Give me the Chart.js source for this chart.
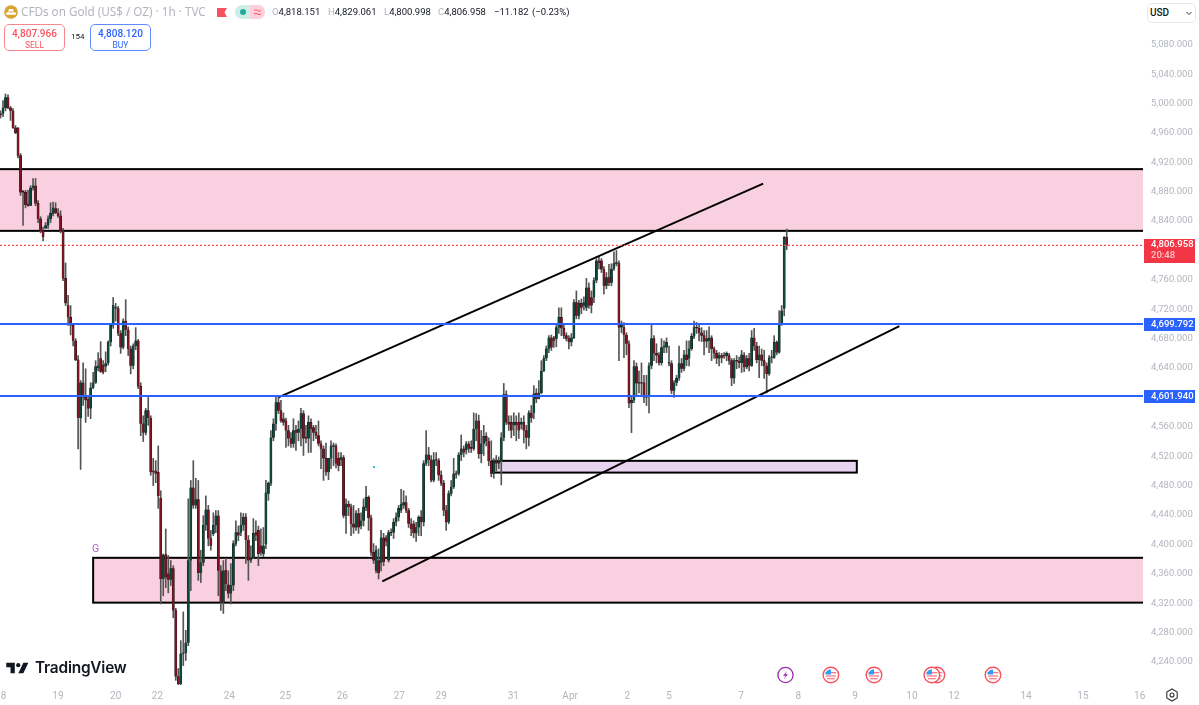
<!DOCTYPE html>
<html>
<head>
<meta charset="utf-8">
<title>CFDs on Gold</title>
<script src="https://cdn.jsdelivr.net/npm/chart.js@4/dist/chart.umd.min.js"></script>
<style>
  html, body { margin: 0; padding: 0; background: #fff; overflow: hidden; }
  #wrap { position: relative; width: 1199px; height: 705px; font-family: Roboto, sans-serif; }
  canvas { position: absolute; left: 0; top: 0; }
  .t { position: absolute; white-space: nowrap; line-height: 1; }
  .ohlc { top: 7px; font-size: 9.5px; color: #b2b5be; }
  .ohlc span { color: #131722; }
  .box { position: absolute; box-sizing: border-box; border-radius: 5px; background: #fff; text-align: center; }
  .box b { display: block; font-weight: 500; font-size: 10px; margin-top: 3px; line-height: 12px; }
  .box span { display: block; font-size: 8.5px; line-height: 10px; }
  svg { position: absolute; overflow: visible; }
</style>
</head>
<body>
<div id="wrap">
  <canvas id="chart" width="1199" height="705"></canvas>

  <svg style="left:4px;top:5px" width="14" height="14" viewBox="0 0 14 14">
    <circle cx="7" cy="7" r="6.8" fill="#d9a334"/>
    <path d="M5 4h4l1 2.5H4zM2.6 7.3h4l.8 2.5H2zM7.4 7.3h4l.8 2.5H6.8z" fill="#fff"/>
  </svg>
  <div class="t" style="left:21px;top:6px;font-size:11.7px;color:#b2b5be;font-family:'Noto Sans',sans-serif">CFDs on Gold (US$ / OZ) · 1h · TVC</div>
  <svg style="left:217px;top:7px" width="10" height="10"><path d="M0 1h10L7.5 5.5 10 10H0z" fill="#f7525f"/></svg>
  <svg style="left:235px;top:5px" width="30" height="14">
    <rect width="30" height="14" rx="7" fill="#cdeee6"/>
    <path d="M15 0h8a7 7 0 0 1 0 14h-8z" fill="#fbd0dc"/>
    <circle cx="8" cy="7" r="3" fill="#22ab94"/>
    <path d="M19 5.5q2-1.5 3.5 0t3.5 0M19 9q2-1.5 3.5 0t3.5 0" stroke="#f7525f" fill="none" stroke-width="1"/>
  </svg>
  <div class="t ohlc" style="left:272px">O<span>4,818.151</span></div>
  <div class="t ohlc" style="left:328px">H<span>4,829.061</span></div>
  <div class="t ohlc" style="left:384px">L<span>4,800.998</span></div>
  <div class="t ohlc" style="left:438px">C<span>4,806.958</span></div>
  <div class="t ohlc" style="left:494px"><span>−11.182</span></div>
  <div class="t ohlc" style="left:532px"><span>(−0.23%)</span></div>

  <div class="box" style="left:4px;top:24px;width:61px;height:27px;border:1px solid #f7868f;color:#f7525f"><b>4,807.966</b><span>SELL</span></div>
  <div class="t" style="left:71px;top:33px;font-size:8px;color:#131722">154</div>
  <div class="box" style="left:90px;top:24px;width:61px;height:27px;border:1px solid #5f8dff;color:#2962ff"><b>4,808.120</b><span>BUY</span></div>

  <div class="box" style="left:1147px;top:3px;width:49px;height:20px;border:1px solid #e6e7ea"></div>
  <div class="t" style="left:1150px;top:8px;font-size:10px;font-weight:500;color:#131722">USD</div>
  <svg style="left:1186px;top:11px" width="6" height="5"><path d="M.5 1l2.5 2.5L5.5 1" stroke="#333" fill="none"/></svg>

  <div class="t" style="left:92px;top:544px;font-size:10.5px;color:#b45cd0">G</div>
  <div style="position:absolute;left:373px;top:466px;width:2px;height:2px;background:#26c6da"></div>

  <svg style="left:6px;top:662px" width="23" height="12" viewBox="0 0 30 16">
    <path d="M0 1h12v14H6V7H0zM24 1h7l-7 14h-7z" fill="#131722" transform="scale(.95 1)"/>
    <circle cx="16" cy="4.2" r="2.8" fill="#131722"/>
  </svg>
  <div class="t" style="left:35px;top:660px;font-size:15.4px;font-weight:600;color:#131722;letter-spacing:-.2px;font-family:Inter,sans-serif">TradingView</div>

  <svg id="icons" style="left:0;top:0" width="1199" height="705">
    <g transform="translate(785.5 675)"><circle r="7.6" fill="#fff" stroke="#9c27b0" stroke-width="1.3"/><path d="M1.5-4L-2.5 .8H0L-1.5 4 2.5-.8H0z" fill="#9c27b0"/></g>
  </svg>

  <svg style="left:1165px;top:688px" width="14" height="14" viewBox="0 0 14 14">
    <path d="M7 1l5.2 3v6L7 13l-5.2-3V4z" fill="none" stroke="#333" stroke-width="1.1"/><circle cx="7" cy="7" r="2" fill="none" stroke="#333" stroke-width="1.1"/>
  </svg>
</div>

<script>
'use strict'

// candles, one hour per bar
const opens = [
  4986,4986,4994,5008,4994,4990,4967,4967,4929,4880,4879,4863,4861,4885,4888,4864,4843,4827,4830,4834,4843,4850,4857,4851,4847,4827,
  4762,4725,4709,4698,4677,4651,4572,4620,4600,4597,4585,4613,4620,4640,4653,4644,4642,4647,4675,4698,4722,4721,4687,4668,4704,
  4692,4666,4643,4670,4677,4615,4564,4552,4582,4572,4500,4500,4498,4463,4353,4386,4360,4352,4367,4310,4220,4210,4251,4252,4266,
  4378,4477,4453,4461,4361,4375,4426,4447,4408,4414,4426,4439,4364,4321,4365,4345,4333,4344,4401,4416,4416,4426,4437,4406,4378,
  4382,4416,4419,4398,4387,4400,4469,4483,4545,4564,4593,4582,4571,4568,4555,4544,4537,4555,4552,4557,4578,4546,4544,4566,4559,
  4552,4548,4537,4530,4517,4498,4517,4534,4534,4517,4515,4518,4439,4455,4451,4428,4423,4442,4425,4432,4450,4464,4436,4389,4364,
  4378,4375,4409,4409,4378,4416,4416,4430,4437,4446,4453,4457,4446,4428,4428,4415,4423,4437,4430,4510,4522,4515,4487,4515,4514,
  4494,4483,4446,4430,4469,4478,4496,4496,4522,4530,4528,4537,4532,4530,4557,4568,4523,4537,4547,4540,4513,4496,4513,4510,4513,
  4545,4604,4566,4566,4562,4566,4566,4563,4566,4555,4545,4579,4579,4606,4598,4606,4636,4653,4666,4681,4681,4680,4695,4709,4694,
  4684,4680,4675,4681,4729,4711,4728,4725,4722,4749,4736,4736,4759,4786,4786,4774,4752,4763,4756,4775,4782,4783,4695,4695,4685,
  4673,4592,4596,4642,4619,4620,4620,4600,4601,4643,4680,4660,4658,4647,4668,4668,4647,4646,4609,4620,4626,4646,4639,4658,4653,
  4666,4683,4695,4694,4688,4684,4676,4677,4681,4666,4660,4653,4657,4657,4656,4657,4650,4626,4650,4649,4647,4657,4641,4653,4643,4681,
  4670,4651,4658,4650,4643,4632,4654,4654,4675,4661,4700,4721,4818.151
];
const highs = [
  4990,5004,5013,5012,4996,4993,4970,4967,4932,4882,4882,4882,4888,4898,4898,4868,4846,4832,4838,4847,4865,4866,4865,4857,4854,4830,
  4783,4739,4725,4700,4680,4657,4623,4647,4639,4602,4620,4634,4650,4661,4676,4650,4662,4677,4700,4736,4728,4724,4691,4707,4733,
  4696,4670,4673,4695,4679,4620,4575,4585,4600,4575,4517,4514,4534,4473,4387,4421,4385,4378,4371,4313,4231,4269,4308,4283,4462,
  4487,4514,4490,4487,4392,4439,4466,4453,4419,4443,4446,4446,4371,4378,4381,4364,4374,4405,4432,4425,4443,4442,4442,4412,4398,
  4435,4432,4425,4421,4423,4487,4485,4555,4571,4600,4600,4596,4579,4572,4562,4552,4571,4562,4568,4585,4582,4562,4575,4571,4562,
  4562,4568,4541,4534,4538,4517,4541,4538,4537,4525,4525,4521,4462,4459,4455,4453,4446,4449,4443,4462,4479,4466,4440,4401,4398,
  4394,4419,4415,4412,4419,4421,4435,4443,4453,4475,4473,4466,4449,4435,4432,4430,4439,4446,4514,4555,4532,4521,4525,4525,4517,
  4500,4487,4453,4473,4487,4517,4500,4525,4549,4534,4540,4540,4541,4579,4578,4576,4555,4562,4552,4545,4541,4517,4521,4519,4552,
  4619,4609,4575,4575,4579,4575,4579,4572,4575,4562,4582,4589,4616,4612,4623,4650,4657,4670,4684,4685,4683,4698,4722,4722,4698,
  4688,4684,4687,4733,4745,4732,4734,4737,4762,4756,4745,4763,4789,4792,4789,4778,4770,4781,4782,4798,4800,4786,4704,4702,4688,
  4677,4602,4650,4647,4636,4647,4630,4630,4647,4699,4684,4673,4661,4680,4677,4681,4670,4650,4623,4630,4670,4653,4664,4677,4677,
  4687,4704,4702,4698,4695,4691,4691,4696,4684,4669,4664,4661,4660,4661,4662,4660,4653,4653,4657,4655,4664,4661,4657,4660,4691,4694,
  4675,4670,4666,4664,4647,4657,4664,4684,4677,4718,4725,4819,4829.061
];
const lows = [
  4980,4982,4990,4993,4977,4966,4959,4926,4875,4834,4858,4860,4861,4882,4861,4838,4824,4813,4830,4830,4838,4847,4850,4845,4824,4759,
  4725,4698,4685,4670,4650,4530,4502,4589,4566,4574,4571,4612,4619,4636,4634,4632,4635,4644,4670,4694,4704,4684,4660,4666,4684,
  4657,4632,4639,4665,4612,4548,4540,4549,4562,4494,4480,4484,4449,4319,4330,4341,4334,4344,4300,4215,4209,4209,4235,4242,4262,
  4337,4449,4449,4351,4348,4371,4419,4398,4392,4412,4416,4330,4310,4306,4337,4327,4319,4337,4398,4405,4412,4419,4374,4351,4375,
  4381,4405,4371,4385,4383,4394,4460,4480,4541,4555,4578,4566,4562,4532,4534,4532,4532,4528,4541,4534,4521,4538,4525,4525,4541,
  4544,4534,4503,4487,4494,4488,4503,4507,4504,4500,4507,4436,4415,4439,4412,4415,4419,4415,4421,4425,4446,4419,4385,4374,4361,
  4353,4364,4371,4398,4376,4412,4408,4425,4432,4443,4449,4443,4423,4412,4409,4404,4412,4412,4425,4507,4507,4485,4485,4507,4487,
  4480,4439,4419,4428,4466,4476,4490,4494,4514,4519,4523,4525,4525,4528,4541,4517,4511,4521,4534,4507,4492,4490,4500,4503,4481,
  4541,4563,4555,4545,4548,4541,4544,4557,4538,4530,4534,4566,4571,4593,4598,4605,4635,4650,4661,4664,4668,4669,4687,4684,4680,
  4677,4666,4670,4680,4707,4707,4714,4719,4718,4721,4715,4729,4756,4775,4770,4741,4748,4752,4752,4773,4779,4650,4688,4654,4658,
  4586,4552,4593,4601,4606,4602,4593,4589,4579,4639,4650,4647,4644,4644,4661,4661,4643,4605,4600,4616,4623,4634,4636,4643,4643,
  4664,4680,4687,4677,4676,4658,4668,4661,4650,4653,4646,4643,4647,4653,4650,4645,4616,4619,4639,4640,4634,4635,4639,4636,4642,4664,
  4647,4627,4643,4626,4606,4630,4647,4653,4658,4660,4698,4711,4800.998
];
const closes = [
  4984,4994,5008,4994,4990,4967,4960,4929,4879,4879,4862,4861,4885,4888,4864,4843,4827,4818,4834,4843,4851,4858,4851,4847,4827,4762,
  4728,4709,4698,4677,4651,4572,4620,4600,4596,4585,4613,4620,4642,4643,4635,4634,4646,4675,4698,4725,4721,4687,4668,4704,4692,
  4666,4643,4670,4677,4615,4564,4552,4582,4572,4498,4498,4496,4466,4353,4385,4355,4352,4367,4310,4220,4210,4251,4252,4266,4378,
  4477,4453,4461,4361,4375,4426,4447,4408,4398,4426,4439,4364,4321,4364,4346,4333,4344,4401,4416,4412,4426,4437,4406,4378,4381,
  4415,4412,4387,4389,4398,4470,4483,4545,4564,4593,4582,4568,4566,4555,4544,4537,4555,4552,4557,4578,4544,4544,4566,4557,4552,
  4548,4537,4530,4517,4498,4517,4534,4533,4510,4507,4518,4439,4455,4451,4428,4423,4442,4423,4432,4451,4464,4436,4389,4378,4392,
  4361,4409,4376,4404,4416,4415,4430,4437,4449,4455,4457,4446,4428,4421,4415,4423,4437,4430,4510,4522,4515,4487,4515,4514,4494,
  4483,4446,4430,4469,4478,4496,4495,4522,4530,4525,4537,4530,4530,4557,4568,4523,4537,4547,4540,4513,4496,4513,4510,4513,4545,
  4604,4566,4563,4555,4566,4562,4555,4566,4555,4545,4579,4572,4605,4598,4606,4636,4653,4666,4681,4668,4677,4695,4709,4694,4684,
  4680,4675,4681,4729,4711,4728,4722,4729,4749,4725,4725,4759,4786,4783,4774,4752,4763,4756,4775,4782,4783,4695,4698,4685,4673,
  4592,4596,4642,4619,4620,4619,4600,4601,4643,4680,4660,4657,4647,4668,4670,4675,4646,4609,4620,4626,4646,4639,4658,4651,4666,
  4683,4695,4694,4688,4684,4676,4680,4681,4666,4660,4653,4657,4654,4656,4660,4650,4626,4650,4649,4647,4658,4641,4653,4643,4681,4670,
  4651,4658,4650,4643,4632,4654,4655,4675,4661,4700,4718,4818,4806.958
];

// axes
const priceTicks = [4240,4280,4320,4360,4400,4440,4480,4520,4560,4600,4640,4680,4720,4760,4800,4840,4880,4920,4960,5000,5040,5080];
const timeLabels = ['8','19','20','22','24','25','26','27','29','31','Apr','2','5','7','8','9','10','12','14','15','16'];
const timeIndex = [1.2,23,46,62.7,91.4,113.8,136.5,159.3,176,204.8,227.5,250.3,267,295.8,318.6,341.3,364,380.8,409.6,432.3,455];

// drawn objects on the chart, in bars and price
const upperChannelX = [111, 304.6];
const upperChannelY = [4600, 4891];
const lowerChannelX = [152.5, 359];
const lowerChannelY = [4349.5, 4697];
const zoneStart = [-5, 37, 196.4];
const zoneEnd = [470, 470, 342];
const zoneTop = [4910.7, 4381.7, 4513.7];
const zoneBottom = [4826.7, 4320.7, 4497.7];
const zoneFill = ['#f9d0df', '#f9d0df', '#e8d4ee'];
const levelPrices = [4699.792, 4601.94];
const lastPrice = 4806.958;
const calendarBars = [331.5, 348.7, 373.8, 371.8, 396.2];

const xMin = -0.2;
const xMax = 456.3;
const yMin = 4208.6;
const yMax = 5140.9;

const bars = opens.map((_, i) => i);

function money(v) {
  return v.toLocaleString('en-US', { minimumFractionDigits: 3 });
}

function hLine(price, color, width, dash) {
  return {
    type: 'line', order: 0, borderColor: color, borderWidth: width, borderDash: dash || [],
    pointRadius: 0, data: [{ x: xMin, y: price }, { x: xMax, y: price }]
  };
}

function trendLine(xs, ys) {
  return {
    type: 'line', order: 0, borderColor: '#000', borderWidth: 2, pointRadius: 0,
    data: xs.map((x, i) => ({ x: x, y: ys[i] }))
  };
}

const zonesPlugin = {
  id: 'zones',
  beforeDatasetsDraw(chart) {
    const ctx = chart.ctx, sx = chart.scales.x, sy = chart.scales.y, a = chart.chartArea;
    ctx.save();
    ctx.beginPath();
    ctx.rect(a.left, a.top, a.right - a.left, a.bottom - a.top);
    ctx.clip();
    zoneTop.forEach((top, i) => {
      const x0 = sx.getPixelForValue(zoneStart[i]), x1 = sx.getPixelForValue(zoneEnd[i]);
      const y0 = sy.getPixelForValue(top), y1 = sy.getPixelForValue(zoneBottom[i]);
      ctx.fillStyle = zoneFill[i];
      ctx.fillRect(x0, y0, x1 - x0, y1 - y0);
      ctx.strokeStyle = '#000';
      ctx.lineWidth = 2;
      ctx.strokeRect(x0, y0, x1 - x0, y1 - y0);
    });
    ctx.restore();
  }
};

// price tags on the right axis
const tagsPlugin = {
  id: 'tags',
  afterDraw(chart) {
    const ctx = chart.ctx, sy = chart.scales.y;
    ctx.save();
    ctx.textBaseline = 'middle';
    ctx.textAlign = 'left';
    ctx.font = '500 9.5px Roboto';
    levelPrices.forEach(p => {
      const y = Math.round(sy.getPixelForValue(p));
      ctx.fillStyle = '#2962ff';
      ctx.fillRect(1144, y - 6, 51, 13);
      ctx.fillStyle = '#fff';
      ctx.fillText(money(p), 1151, y + 0.5);
    });
    const y = Math.round(sy.getPixelForValue(lastPrice));
    ctx.fillStyle = '#f23645';
    ctx.fillRect(1144, y - 6, 51, 24);
    ctx.fillStyle = '#fff';
    ctx.fillText(money(lastPrice), 1151, y);
    ctx.fillStyle = '#fcc5ca';
    ctx.fillText('20:48', 1151, y + 11);
    ctx.restore();
  }
};

new Chart(document.getElementById('chart'), {
  type: 'bar',
  plugins: [zonesPlugin, tagsPlugin],
  data: {
    datasets: [
      hLine(levelPrices[0], '#2962ff', 2),
      hLine(levelPrices[1], '#2962ff', 2),
      hLine(lastPrice, '#ff4d5e', 1.2, [2, 2]),
      trendLine(upperChannelX, upperChannelY),
      trendLine(lowerChannelX, lowerChannelY),
      {
        // bodies
        order: 1, grouped: false, barThickness: 2.2, minBarLength: 1,
        backgroundColor: bars.map(i => closes[i] >= opens[i] ? '#0a4a3d' : '#7d1422'),
        borderColor: '#111', borderWidth: 0.4,
        data: bars.map(i => ({ x: i, y: [opens[i], closes[i]] }))
      },
      {
        // wicks
        order: 2, grouped: false, barThickness: 1,
        backgroundColor: '#555',
        data: bars.map(i => ({ x: i, y: [lows[i], highs[i]] }))
      }
    ]
  },
  options: {
    responsive: false,
    animation: false,
    devicePixelRatio: 1,
    layout: { padding: 0 },
    plugins: { legend: { display: false }, tooltip: { enabled: false } },
    scales: {
      x: {
        type: 'linear', min: xMin, max: xMax, offset: false,
        grid: { display: false, offset: false, drawTicks: false }, border: { display: false },
        afterBuildTicks: s => { s.ticks = timeIndex.map(v => ({ value: v })); },
        afterFit: s => { s.height = 20; s.paddingLeft = 0; s.paddingRight = 0; },
        ticks: {
          autoSkip: false, maxRotation: 0, padding: 5, color: '#b2b5be',
          font: { family: 'Roboto', size: 10 },
          callback: (v, i) => timeLabels[i]
        }
      },
      y: {
        type: 'linear', position: 'right', min: yMin, max: yMax, beginAtZero: false,
        grid: { display: false, drawTicks: false }, border: { display: false },
        afterBuildTicks: s => { s.ticks = priceTicks.map(v => ({ value: v })); },
        afterFit: s => { s.width = 56; s.paddingTop = 0; s.paddingBottom = 0; },
        ticks: {
          autoSkip: false, padding: 8, color: '#b2b5be',
          font: { family: 'Roboto', size: 9.5 },
          callback: v => money(v)
        }
      }
    }
  }
});

// economic calendar flags under the candles
const icons = document.getElementById('icons');
calendarBars.forEach(b => {
  const x = 2.505 * b + 0.5;
  icons.insertAdjacentHTML('beforeend',
    '<g transform="translate(' + x + ' 675)"><circle r="7.8" fill="#fff" stroke="#f7525f" stroke-width="1.4"/>' +
    '<circle r="5.8" fill="#fff"/><path d="M-5.4-2.2h10.8M-5 1h10M-3.8 3.8h7.6" stroke="#f7525f" stroke-width="1.1"/>' +
    '<path d="M-5.6-.6A5.6 5.6 0 0 1 0-5.6V-.6z" fill="#2e9cf5"/></g>');
});
</script>
</body>
</html>
